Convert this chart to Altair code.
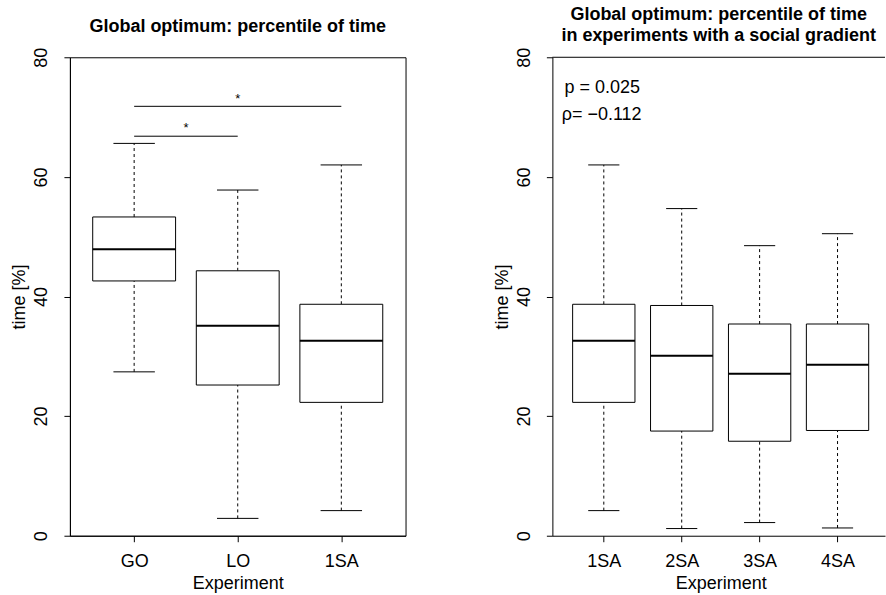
import altair as alt
import pandas as pd

FONT = "Liberation Sans"

# ---- data ----
left_cats = ["GO", "LO", "1SA"]
left_lower = [27.4, 2.9, 4.2]
left_q1 = [42.6, 25.2, 22.3]
left_median = [47.9, 35.1, 32.6]
left_q3 = [53.3, 44.3, 38.7]
left_upper = [65.6, 57.8, 62.0]

right_cats = ["1SA", "2SA", "3SA", "4SA"]
right_lower = [4.2, 1.2, 2.2, 1.3]
right_q1 = [22.3, 17.5, 15.8, 17.6]
right_median = [32.6, 30.1, 27.1, 28.6]
right_q3 = [38.7, 38.5, 35.4, 35.4]
right_upper = [62.0, 54.7, 48.5, 50.5]

# significance brackets (left panel): from group, to group, line level, star level
sig_from = [1, 1]
sig_to = [2, 3]
sig_level = [66.8, 71.8]
sig_star = [68.1, 73.1]
sig_text = ["*", "*"]

# annotations (right panel)
ann_text = ["p = 0.025", "ρ= −0.112"]
ann_x = [0.495, 0.46]
ann_y = [74.1, 69.5]

y_ticks = [0, 20, 40, 60, 80]
Y_DOMAIN = [0, 80]


def make_panel(cats, lower, q1, med, q3, upper, xdom, width, height, title, right_panel,
               title_offset):
    pos = list(range(1, len(cats) + 1))
    df = pd.DataFrame({"cat": cats, "pos": pos, "lower": lower, "q1": q1,
                       "median": med, "q3": q3, "upper": upper})
    label_expr = "[" + ",".join(f"'{c}'" for c in cats) + "][datum.value - 1]"
    xscale = alt.Scale(domain=xdom, nice=False, zero=False)
    yscale = alt.Scale(domain=Y_DOMAIN, nice=False, zero=True)
    xaxis = alt.Axis(values=pos, labelExpr=label_expr, title="Experiment",
                     tickSize=6, labelPadding=25, labelBaseline="alphabetic",
                     labelFlush=False, titleBaseline="alphabetic", titleY=53,
                     titleX=width / 2 if not right_panel else 337 / 2, titleAlign="center")
    yaxis = alt.Axis(values=y_ticks, title="time [%]", tickSize=6, labelPadding=17,
                     labelAngle=270, labelAlign="center", labelBaseline="alphabetic",
                     titleAngle=270, titleX=-45, titleY=height / 2, titleAlign="center",
                     titleBaseline="alphabetic")

    def X(f):
        return alt.X(f, type="quantitative", scale=xscale, axis=xaxis)

    def Y(f):
        return alt.Y(f, type="quantitative", scale=yscale, axis=yaxis)

    base = alt.Chart(df).transform_calculate(
        b0="datum.pos - 0.4", b1="datum.pos + 0.4",
        c0="datum.pos - 0.2", c1="datum.pos + 0.2")

    whisk_hi = base.mark_rule(color="black", strokeWidth=1, strokeDash=[3, 3]).encode(
        x=X("pos"), y=Y("q3"), y2="upper")
    whisk_lo = base.mark_rule(color="black", strokeWidth=1, strokeDash=[3, 3]).encode(
        x=X("pos"), y=Y("lower"), y2="q1")
    cap_hi = base.mark_rule(color="black", strokeWidth=1).encode(
        x=X("c0"), x2="c1", y=Y("upper"))
    cap_lo = base.mark_rule(color="black", strokeWidth=1).encode(
        x=X("c0"), x2="c1", y=Y("lower"))
    box = base.mark_rect(fill="white", stroke="black", strokeWidth=1).encode(
        x=X("b0"), x2="b1", y=Y("q1"), y2="q3")
    median = base.mark_rule(color="black", strokeWidth=2).encode(
        x=X("b0"), x2="b1", y=Y("median"))

    layers = [whisk_hi, whisk_lo, cap_hi, cap_lo, box, median]

    if not right_panel:
        sdf = pd.DataFrame({"x0": sig_from, "x1": sig_to, "lvl": sig_level,
                            "star": sig_star, "t": sig_text})
        sdf["mid"] = (sdf["x0"] + sdf["x1"]) / 2
        sig_lines = alt.Chart(sdf).mark_rule(color="black", strokeWidth=1).encode(
            x=X("x0"), x2="x1", y=Y("lvl"))
        sig_stars = alt.Chart(sdf).mark_text(font=FONT, fontSize=13, color="black",
                                             baseline="middle").encode(
            x=X("mid"), y=Y("star"), text="t:N")
        layers += [sig_lines, sig_stars]
        view = alt.ViewBackground(stroke="black", strokeWidth=1, fill=None)
    else:
        adf = pd.DataFrame({"t": ann_text, "x": ann_x, "y": ann_y})
        ann = alt.Chart(adf).mark_text(font=FONT, fontSize=18, color="black",
                                       align="left", baseline="alphabetic").encode(
            x=X("x"), y=Y("y"), text="t:N")
        tdf = pd.DataFrame({"top": [Y_DOMAIN[1]]})
        top_line = alt.Chart(tdf).mark_rule(color="black", strokeWidth=1).encode(
            y=Y("top"), x=alt.value(0), x2=alt.value(width))
        layers += [ann, top_line]
        view = alt.ViewBackground(stroke=None, fill=None)

    return alt.layer(*layers).properties(
        width=width, height=height, view=view,
        title=alt.TitleParams(text=title, font=FONT, fontSize=18, fontWeight="bold",
                              color="black", anchor="middle", frame="group",
                              baseline="alphabetic", offset=title_offset, lineHeight=21))


left = make_panel(left_cats, left_lower, left_q1, left_median, left_q3, left_upper,
                  [0.38, 3.62], 336, 479, "Global optimum: percentile of time", False, -2.5)
right = make_panel(right_cats, right_lower, right_q1, right_median, right_q3, right_upper,
                   [0.34, 0.34 + 333 / 78.0], 333, 479,
                   ["Global optimum: percentile of time", "in experiments with a social gradient"],
                   True, -12)

chart = alt.hconcat(left, right, spacing=147, bounds="flush").properties(
    padding={"left": 10, "top": 5, "right": 0, "bottom": 0},
    background="white"
).configure_axis(
    grid=False, domainColor="black", tickColor="black", labelColor="black",
    titleColor="black", labelFont=FONT, titleFont=FONT, labelFontSize=18,
    titleFontSize=18, titleFontWeight="normal", domainWidth=1, tickWidth=1
)

chart.save("out.html", embed_options={"renderer": "svg", "actions": False})
